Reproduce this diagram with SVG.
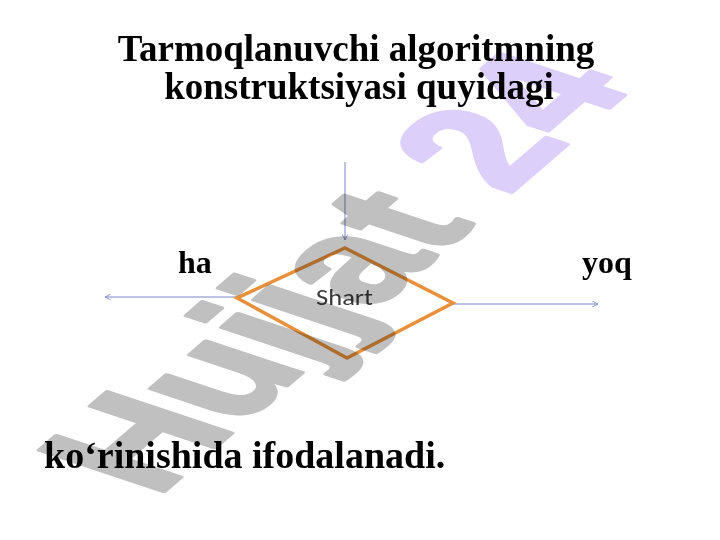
<svg xmlns="http://www.w3.org/2000/svg" width="720" height="540" viewBox="0 0 720 540">
<defs>
<style>
.t{font-family:"Liberation Serif","Times New Roman",serif;font-weight:bold;fill:#000}
.c{stroke:#7b86c4;stroke-width:1;fill:none}
.wm{font-family:"Liberation Sans",Arial,sans-serif;font-weight:bold;font-size:100px;stroke-width:3;stroke-linejoin:round}
</style>
<marker id="ah" viewBox="0 0 10 10" refX="9" refY="5" markerWidth="7" markerHeight="7" orient="auto" markerUnits="userSpaceOnUse">
<path d="M1,1 L9,5 L1,9" fill="none" stroke="#7b86c4" stroke-width="1.2"/>
</marker>
</defs>
<rect width="720" height="540" fill="#fff"/>
<g id="title">
<text class="t" x="356" y="61" font-size="37" text-anchor="middle">Tarmoqlanuvchi algoritmning</text>
<text class="t" x="359" y="99" font-size="37" text-anchor="middle">konstruktsiyasi quyidagi</text>
</g>
<g id="connectors">
<line class="c" x1="345" y1="162" x2="345" y2="240" marker-end="url(#ah)"/>
<line class="c" x1="237" y1="297" x2="105" y2="297" marker-end="url(#ah)"/>
<line class="c" x1="453" y1="304" x2="598" y2="304" marker-end="url(#ah)"/>
</g>
<g id="shart">
<polygon points="345,248 453,303 347,358 237,298" fill="none" stroke="#e8903c" stroke-width="3.5" stroke-linejoin="miter"/>
<text x="316" y="305" font-family="Carlito,'Liberation Sans',sans-serif" font-size="22" fill="#3a3a3a" textLength="57" lengthAdjust="spacingAndGlyphs">Shart</text>
</g>
<g id="label-ha"><text class="t" x="178" y="273" font-size="32">ha</text></g>
<g id="label-yoq"><text class="t" x="582" y="273" font-size="32">yoq</text></g>
<g id="footer"><text class="t" x="44" y="468" font-size="38">ko‘rinishida ifodalanadi.</text></g>
<g id="watermark" style="mix-blend-mode:multiply">
<text class="wm" transform="matrix(1.15,-0.99,1.80,0.60,156,498)"><tspan fill="#c0c0c0" stroke="#c0c0c0">Hujjat </tspan><tspan fill="#dcd0fa" stroke="#dcd0fa">24</tspan></text>
</g>
</svg>
